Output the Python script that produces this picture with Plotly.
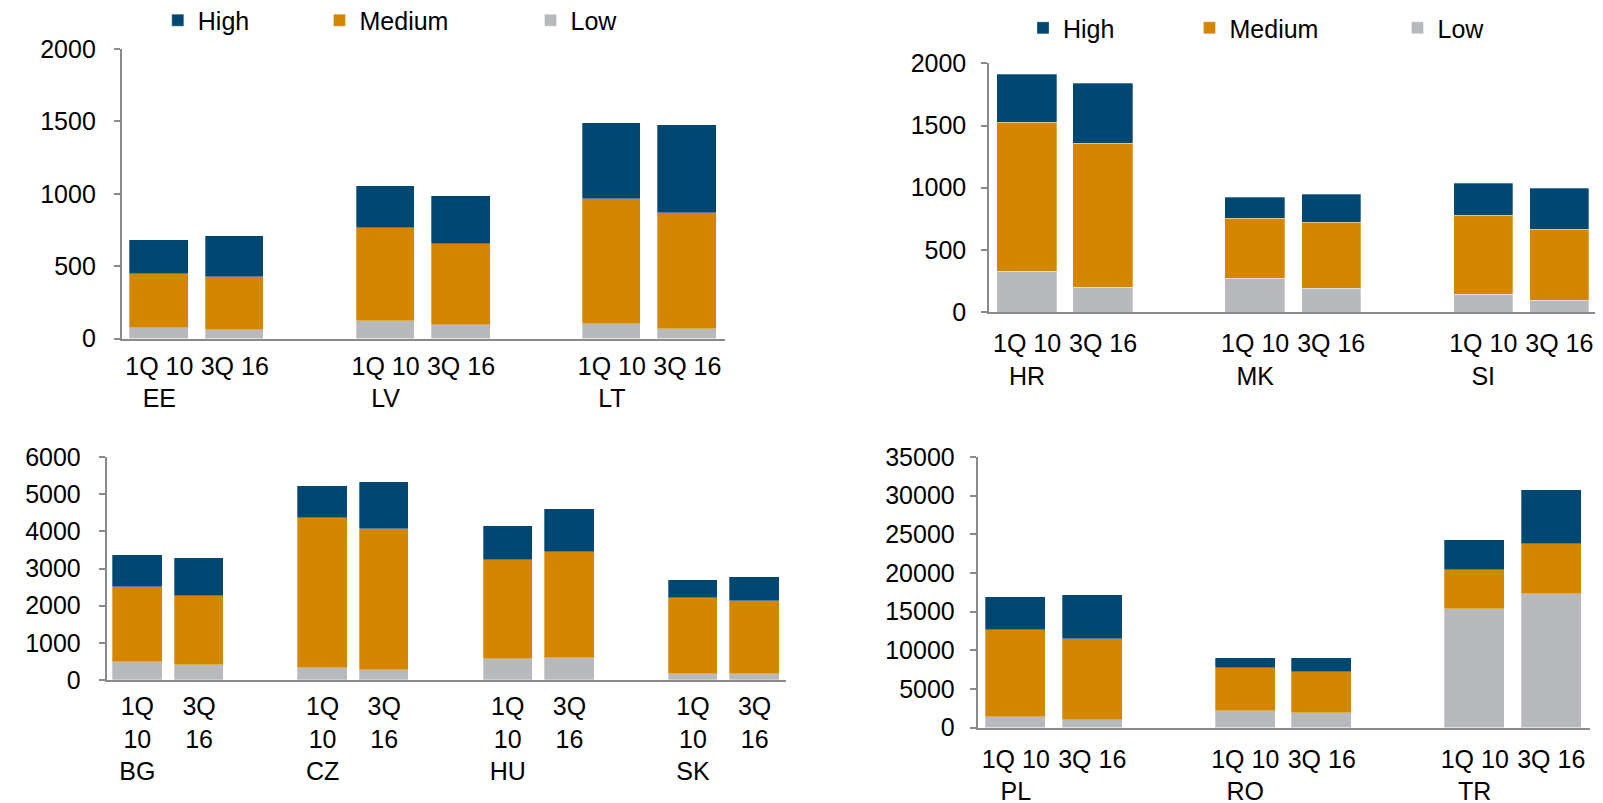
import plotly.graph_objects as go

# ---------------- data ----------------
periods = ["1Q 10", "3Q 16"]
series_names = ["High", "Medium", "Low"]

p1_countries = ["EE", "LV", "LT"]
p1_low = [72, 58, 123, 93, 102, 63]
p1_medium = [372, 370, 641, 562, 863, 805]
p1_high = [239, 278, 289, 329, 526, 604]

p2_countries = ["HR", "MK", "SI"]
p2_low = [326, 199, 271, 191, 143, 93]
p2_medium = [1197, 1159, 482, 528, 632, 573]
p2_high = [392, 483, 170, 231, 257, 326]

p3_countries = ["BG", "CZ", "HU", "SK"]
p3_low = [495, 406, 327, 256, 557, 601, 168, 150]
p3_medium = [2006, 1847, 4021, 3818, 2669, 2854, 2041, 1980]
p3_high = [866, 1017, 883, 1264, 927, 1149, 477, 636]

p4_countries = ["PL", "RO", "TR"]
p4_low = [1336, 991, 2112, 1853, 15344, 17283]
p4_medium = [11249, 10517, 5560, 5388, 5042, 6465]
p4_high = [4267, 5646, 1379, 1810, 3879, 6982]

# ---------------- style ----------------
W, H = 1603, 803
FONT = "Liberation Sans, Arial, sans-serif"
FS = 25
COLORS = {"High": "#004771", "Medium": "#D48600", "Low": "#B8B9BD"}
AXIS_COLOR = "#8A8A8A"

fig = go.Figure()


def positions(n_groups):
    # two bars per group, one empty slot between groups
    return [g * 3 + j for g in range(n_groups) for j in range(len(periods))]


def tick_texts(countries, wrap):
    out = []
    for c in countries:
        for j, p in enumerate(periods):
            t = p.replace(" ", "<br>") if wrap else p
            if j == 0:
                t = t + "<br>" + c
            out.append(t)
    return out


panels = [
    (p1_countries, p1_low, p1_medium, p1_high, "x", "y", ["legend", "legend2", "legend3"], 0.775),
    (p2_countries, p2_low, p2_medium, p2_high, "x2", "y2", ["legend4", "legend5", "legend6"], 0.78),
    (p3_countries, p3_low, p3_medium, p3_high, "x3", "y3", None, 0.8),
    (p4_countries, p4_low, p4_medium, p4_high, "x4", "y4", None, 0.78),
]

for countries, low, med, high, xa, ya, legs, bw in panels:
    xs = positions(len(countries))
    vals = {"Low": low, "Medium": med, "High": high}
    for name in ["Low", "Medium", "High"]:
        kw = {}
        if legs:
            kw["legend"] = legs[series_names.index(name)]
            kw["showlegend"] = True
        else:
            kw["showlegend"] = False
        fig.add_trace(go.Bar(
            x=xs, y=vals[name], name=name, xaxis=xa, yaxis=ya,
            width=bw,
            marker=dict(color=COLORS[name], line=dict(color="rgba(255,255,255,0.5)", width=0.6)),
            **kw,
        ))


def fx(a, b):
    return [a / W, b / W]


def fy(top, bottom):
    return [(H - bottom) / H, (H - top) / H]


axis_common = dict(showgrid=False, zeroline=False, showline=True, linecolor=AXIS_COLOR,
                   tickfont=dict(family=FONT, size=FS, color="#000000"))

layout_axes = {}
# x-key, y-key, x-domain, y-domain, ymax, dtick, groups, countries, wrap, x-range, xlabel standoff, ylabel standoff
specs = [
    ("xaxis", "yaxis", fx(113.6, 717), fy(41, 330.5), 2000, 500, 3, p1_countries, False, [-0.5, 7.5], 4, 13),
    ("xaxis2", "yaxis2", fx(981, 1603), fy(55.4, 304), 2000, 500, 3, p2_countries, False, [-0.5, 7.68], 8, 10),
    ("xaxis3", "yaxis3", fx(98.5, 777.5), fy(449, 672), 6000, 1000, 4, p3_countries, True, [-0.5, 10.5], 3, 13),
    ("xaxis4", "yaxis4", fx(969.5, 1581.5), fy(449, 719.5), 35000, 5000, 3, p4_countries, False, [-0.5, 7.5], 8, 10),
]
for i, (xk, yk, xd, yd, ymax, dt, ng, countries, wrap, xr, xso, yso) in enumerate(specs):
    anchor_x = "y" if i == 0 else f"y{i+1}"
    anchor_y = "x" if i == 0 else f"x{i+1}"
    layout_axes[xk] = dict(
        axis_common, domain=xd, anchor=anchor_x, range=xr,
        tickmode="array", tickvals=positions(ng), ticktext=tick_texts(countries, wrap),
        ticks="", tickangle=0, linewidth=2, ticklabelstandoff=xso,
        ticklabeloverflow="allow",
    )
    layout_axes[yk] = dict(
        axis_common, domain=yd, anchor=anchor_y, range=[0, ymax], dtick=dt, tick0=0,
        tickformat="d",
        ticks="outside", ticklen=6, tickwidth=1.5, tickcolor=AXIS_COLOR, linewidth=1.5,
        ticklabelstandoff=yso,
    )

legend_common = dict(orientation="h", xanchor="left", yanchor="middle",
                     bgcolor="rgba(0,0,0,0)", borderwidth=0,
                     font=dict(family=FONT, size=FS, color="#000000"),
                     itemwidth=30, itemclick=False)
legend_defs = {
    "legend": (163.8, 12.4),
    "legend2": (325.5, 12.4),
    "legend3": (536.5, 12.4),
    "legend4": (1029.0, 20.1),
    "legend5": (1195.5, 20.1),
    "legend6": (1403.5, 20.1),
}
legends = {}
for k, (bx, cy) in legend_defs.items():
    legends[k] = dict(legend_common, x=(bx - 14) / W, y=1 - cy / H)

fig.update_layout(
    width=W, height=H,
    margin=dict(l=0, r=0, t=0, b=0, autoexpand=False),
    paper_bgcolor="white", plot_bgcolor="white",
    barmode="stack", bargap=0,
    font=dict(family=FONT, size=FS, color="#000000"),
    **layout_axes, **legends,
)

fig.write_html("out.html")
